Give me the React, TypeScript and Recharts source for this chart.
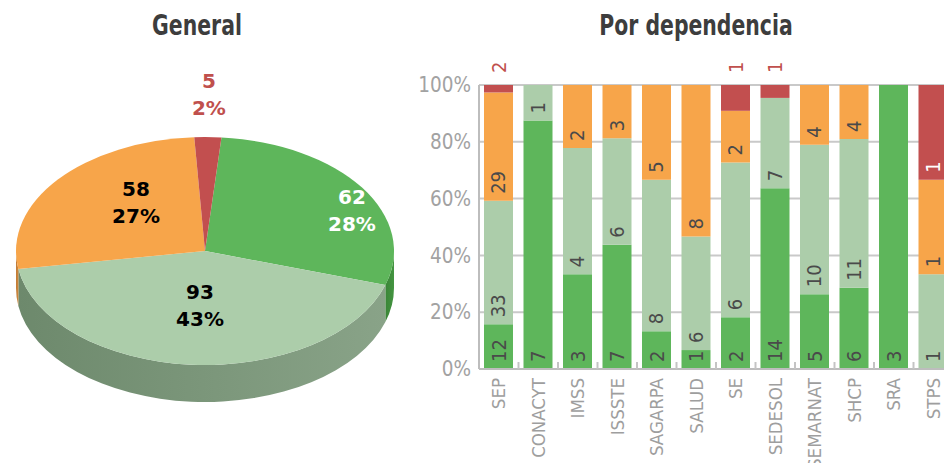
import React from "react";
import { PieChart, Pie, BarChart, Bar, XAxis, YAxis, CartesianGrid, LabelList } from "recharts";

const dependencias = ["SEP", "CONACYT", "IMSS", "ISSSTE", "SAGARPA", "SALUD", "SE", "SEDESOL", "SEMARNAT", "SHCP", "SRA", "STPS"];
const verde = [12, 7, 3, 7, 2, 1, 2, 14, 5, 6, 3, 0];
const verdeClaro = [33, 1, 4, 6, 8, 6, 6, 7, 10, 11, 0, 1];
const naranja = [29, 0, 2, 3, 5, 8, 2, 0, 4, 4, 0, 1];
const rojo = [2, 0, 0, 0, 0, 0, 1, 1, 0, 0, 0, 1];
const percentTicks = [0, 0.2, 0.4, 0.6, 0.8, 1];

const generalNames = ["verde", "verdeClaro", "naranja", "rojo"];
const generalValues = [62, 93, 58, 5];

const topColors = ["#5eb65b", "#accdaa", "#f7a54a", "#c24f4f"];
const sideColors = [
  ["#3a8537", "#449541"],
  ["#6d896c", "#89a388"],
  ["#c07a35", "#cf8a40"],
  ["#8f3434", "#9e3a3a"],
];

const FONT = "'Liberation Sans Narrow', 'DejaVu Sans Condensed', sans-serif";
const TILT = 0.603;
const DEPTH = 37;
const RAD = Math.PI / 180;

// label placement tweaks on the tilted pie
const labelRadius = [0.853, 0.475, 0.564, 1.37];
const labelShift = [-9.5, 1, -10.8, 0];
const labelFill = ["#ffffff", "#000000", "#000000", "#c0504d"];

const generalData = generalNames.map((name, i) => ({ name, value: generalValues[i] }));
const barData = dependencias.map((name, i) => ({
  name,
  verde: verde[i],
  verdeClaro: verdeClaro[i],
  naranja: naranja[i],
  rojo: rojo[i],
}));

function pt(cx: number, cy: number, rx: number, ry: number, a: number, dy = 0) {
  return [cx + rx * Math.cos(-a * RAD), cy + ry * Math.sin(-a * RAD) + dy];
}

function Slice3D(props: any) {
  const { cx, cy, outerRadius, startAngle, endAngle, index } = props;
  const rx = outerRadius;
  const ry = outerRadius * TILT;
  const s = pt(cx, cy, rx, ry, startAngle);
  const e = pt(cx, cy, rx, ry, endAngle);
  const delta = startAngle - endAngle;
  const large = Math.abs(delta) > 180 ? 1 : 0;
  const sweep = delta > 0 ? 1 : 0;
  const top = `M${cx},${cy} L${s[0]},${s[1]} A${rx},${ry} 0 ${large} ${sweep} ${e[0]},${e[1]} Z`;

  const lo = Math.min(startAngle, endAngle);
  const hi = Math.max(startAngle, endAngle);
  const sides: string[] = [];
  for (let k = -2; k <= 2; k++) {
    const a = Math.max(lo, -180 + 360 * k);
    const b = Math.min(hi, 360 * k);
    if (b > a) {
      const p1 = pt(cx, cy, rx, ry, a);
      const p2 = pt(cx, cy, rx, ry, b);
      const p3 = pt(cx, cy, rx, ry, b, DEPTH);
      const p4 = pt(cx, cy, rx, ry, a, DEPTH);
      sides.push(
        `M${p1[0]},${p1[1]} A${rx},${ry} 0 0 0 ${p2[0]},${p2[1]} L${p3[0]},${p3[1]} A${rx},${ry} 0 0 1 ${p4[0]},${p4[1]} Z`
      );
    }
  }
  const gid = `side-grad-${index}`;
  return (
    <g>
      <defs>
        <linearGradient id={gid} x1="0" y1="0" x2="1" y2="0">
          <stop offset="0%" stopColor={sideColors[index][0]} />
          <stop offset="100%" stopColor={sideColors[index][1]} />
        </linearGradient>
      </defs>
      {sides.map((d, i) => (
        <path key={i} d={d} fill={`url(#${gid})`} />
      ))}
      <path d={top} fill={topColors[index]} />
    </g>
  );
}

function renderPieLabel(props: any) {
  const { cx, cy, midAngle, outerRadius, index, value, percent } = props;
  const a = (midAngle + labelShift[index]) * RAD;
  const x = cx + outerRadius * labelRadius[index] * Math.cos(a);
  const y = cy - outerRadius * TILT * labelRadius[index] * Math.sin(a);
  const common = {
    x,
    textAnchor: "middle" as const,
    dominantBaseline: "central" as const,
    fill: labelFill[index],
    fontSize: 20,
    fontWeight: 700,
    fontFamily: "'DejaVu Sans', sans-serif",
  };
  return (
    <g>
      <text {...common} y={y - 13.5}>{value}</text>
      <text {...common} y={y + 13.5}>{`${Math.round(percent * 100)}%`}</text>
    </g>
  );
}

const makeBarLabel = (isRed: boolean) => (props: any) => {
  const { x, y, width, height, value } = props;
  if (!value) return null;
  const cx = Number(x) + Number(width) / 2;
  const h = Math.abs(Number(height));
  const top = Math.min(Number(y), Number(y) + Number(height));
  let by = top + h - 7;
  let fill = "#4a4a4a";
  if (isRed) {
    if (h < 30) {
      by = top - 12;
      fill = "#c0504d";
    } else {
      fill = "#ffffff";
    }
  }
  return (
    <text
      x={cx}
      y={by}
      transform={`rotate(-90 ${cx} ${by})`}
      textAnchor="start"
      dominantBaseline="central"
      fill={fill}
      fontSize={20}
      fontFamily={FONT}
    >
      {value}
    </text>
  );
};

function CategoryTick(props: any) {
  const { x, y, payload, index } = props;
  const half = payload && payload.offset ? payload.offset : 19.75;
  const ty = y + 1;
  const axisY = y - 8;
  return (
    <g>
      {index > 0 && (
        <line x1={x - half} x2={x - half} y1={axisY - 7} y2={axisY} stroke="#c4c4c4" strokeWidth={2} />
      )}
      <text
        x={x}
        y={ty}
        transform={`rotate(-90 ${x} ${ty})`}
        textAnchor="end"
        dominantBaseline="central"
        fill="#9e9e9e"
        fontSize={18.5}
        fontFamily={FONT}
      >
        {payload.value}
      </text>
    </g>
  );
}

const titleStyle: React.CSSProperties = {
  position: "absolute",
  top: 9,
  textAlign: "center",
  fontFamily: FONT,
  fontWeight: 700,
  fontSize: 28,
  color: "#3d3d3d",
  lineHeight: "34px",
  transform: "scaleX(0.81)",
  transformOrigin: "center",
};

export default function App() {
  return (
    <div style={{ position: "relative", width: 944, height: 463, overflow: "hidden", background: "#fff" }}>
      <style>{"body{margin:0}"}</style>
      <div style={{ ...titleStyle, left: 0, width: 394 }}>General</div>
      <div style={{ ...titleStyle, left: 546, width: 300 }}>Por dependencia</div>

      <div style={{ position: "absolute", left: 0, top: 0 }}>
        <PieChart width={400} height={463}>
          <Pie
            data={generalData}
            dataKey="value"
            nameKey="name"
            cx={200}
            cy={246}
            outerRadius={189}
            startAngle={85}
            endAngle={-275}
            stroke="none"
            isAnimationActive={false}
            labelLine={false}
            label={renderPieLabel}
            shape={Slice3D}
            activeShape={Slice3D}
            inactiveShape={Slice3D}
          />
        </PieChart>
      </div>

      <div style={{ position: "absolute", left: 400, top: 40 }}>
        <BarChart
          width={553}
          height={423}
          data={barData}
          stackOffset="expand"
          barSize={29}
          margin={{ top: 45, right: 0, left: 0, bottom: 0 }}
        >
          <CartesianGrid vertical={false} stroke="#c9c9c9" strokeWidth={2} />
          <XAxis
            dataKey="name"
            height={94}
            interval={0}
            tickLine={false}
            axisLine={{ stroke: "#bdbdbd", strokeWidth: 2 }}
            tick={<CategoryTick />}
          />
          <YAxis
            width={79}
            domain={[0, 1]}
            ticks={percentTicks}
            tickFormatter={(v: number) => `${Math.round(v * 100)}%`}
            tickLine={false}
            axisLine={{ stroke: "#bdbdbd", strokeWidth: 2 }}
            tick={{ fill: "#a2a2a2", fontSize: 20.5, fontFamily: FONT }}
          />
          <Bar dataKey="verde" stackId="a" fill={topColors[0]} isAnimationActive={false}>
            <LabelList dataKey="verde" content={makeBarLabel(false)} />
          </Bar>
          <Bar dataKey="verdeClaro" stackId="a" fill={topColors[1]} isAnimationActive={false}>
            <LabelList dataKey="verdeClaro" content={makeBarLabel(false)} />
          </Bar>
          <Bar dataKey="naranja" stackId="a" fill={topColors[2]} isAnimationActive={false}>
            <LabelList dataKey="naranja" content={makeBarLabel(false)} />
          </Bar>
          <Bar dataKey="rojo" stackId="a" fill={topColors[3]} isAnimationActive={false}>
            <LabelList dataKey="rojo" content={makeBarLabel(true)} />
          </Bar>
        </BarChart>
      </div>
    </div>
  );
}
